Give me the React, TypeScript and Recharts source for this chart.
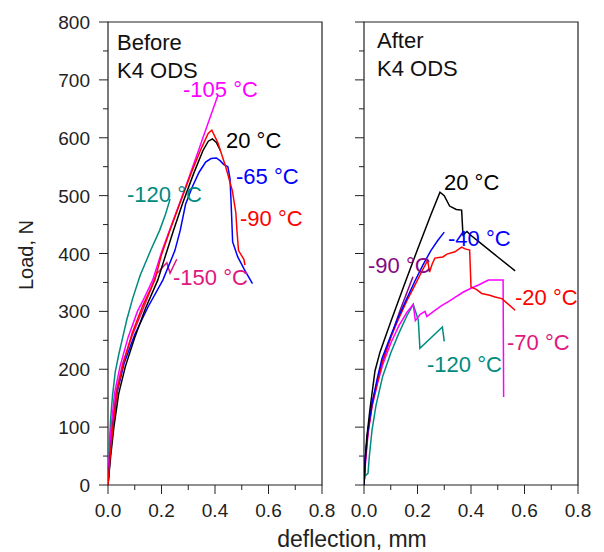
import React from 'react';
import { LineChart, Line, XAxis, YAxis, ReferenceArea } from 'recharts';

const FONT = '"Liberation Sans", Arial, Helvetica, sans-serif';

type Pt = [number, number]; // [deflection mm, load N]

// Before K4 ODS
const before20: Pt[] = [[0, 0], [0.01, 50], [0.022, 100], [0.04, 158], [0.065, 205], [0.1, 255], [0.14, 305], [0.186, 354], [0.22, 404], [0.245, 440], [0.28, 488], [0.32, 538], [0.355, 578], [0.375, 594], [0.39, 598], [0.405, 592], [0.42, 578]];
const beforeM65: Pt[] = [[0, 0], [0.008, 50], [0.018, 100], [0.035, 162], [0.06, 210], [0.1, 260], [0.15, 308], [0.205, 354], [0.25, 405], [0.27, 440], [0.29, 485], [0.315, 515], [0.34, 540], [0.365, 558], [0.385, 564], [0.405, 565], [0.42, 560], [0.432, 554], [0.448, 550], [0.456, 530], [0.46, 490], [0.466, 420], [0.485, 394], [0.51, 372], [0.54, 348]];
const beforeM90: Pt[] = [[0, 0], [0.008, 50], [0.018, 100], [0.035, 165], [0.06, 215], [0.09, 262], [0.13, 310], [0.175, 354], [0.2, 398], [0.23, 438], [0.27, 488], [0.31, 538], [0.35, 583], [0.375, 608], [0.388, 613], [0.41, 592], [0.44, 550], [0.465, 508], [0.478, 470], [0.482, 440], [0.488, 405], [0.5, 396], [0.508, 390], [0.512, 380]];
const beforeM105: Pt[] = [[0, 0], [0.005, 50], [0.012, 100], [0.025, 160], [0.045, 205], [0.075, 255], [0.11, 300], [0.13, 318], [0.167, 354], [0.2, 402], [0.23, 440], [0.27, 490], [0.3, 528], [0.33, 567], [0.37, 620], [0.41, 672]];
const beforeM120: Pt[] = [[0, 0], [0.004, 60], [0.01, 115], [0.017, 155], [0.027, 195], [0.04, 225], [0.05, 245], [0.07, 285], [0.092, 322], [0.12, 362], [0.16, 406], [0.193, 440], [0.215, 468], [0.232, 494]];
const beforeM150: Pt[] = [[0, 0], [0.006, 50], [0.014, 100], [0.03, 160], [0.055, 210], [0.09, 258], [0.13, 303], [0.16, 338], [0.18, 364], [0.22, 384], [0.232, 366], [0.257, 390]];

// After K4 ODS
const after20: Pt[] = [[0, 0], [0.004, 38], [0.01, 80], [0.022, 130], [0.041, 197], [0.06, 230], [0.1, 282], [0.15, 345], [0.2, 407], [0.25, 467], [0.284, 506], [0.3, 500], [0.32, 482], [0.345, 476], [0.365, 475], [0.37, 432], [0.385, 438], [0.398, 432], [0.43, 420], [0.5, 394], [0.565, 370]];
const afterM20: Pt[] = [[0, 0], [0.005, 45], [0.015, 92], [0.03, 138], [0.07, 215], [0.1, 255], [0.13, 288], [0.16, 318], [0.19, 345], [0.215, 368], [0.238, 388], [0.245, 368], [0.255, 382], [0.265, 392], [0.28, 393], [0.295, 394], [0.31, 399], [0.34, 403], [0.365, 411], [0.378, 408], [0.395, 406], [0.4, 342], [0.42, 338], [0.44, 331], [0.47, 328], [0.49, 325], [0.515, 322], [0.54, 312], [0.565, 302]];
const afterM40: Pt[] = [[0, 0], [0.004, 45], [0.015, 95], [0.03, 140], [0.05, 185], [0.067, 218], [0.1, 258], [0.13, 292], [0.16, 322], [0.19, 352], [0.22, 380], [0.25, 405], [0.275, 422], [0.3, 437]];
const afterM70: Pt[] = [[0, 0], [0.006, 40], [0.015, 88], [0.03, 135], [0.05, 175], [0.07, 208], [0.1, 245], [0.13, 275], [0.16, 298], [0.184, 312], [0.192, 284], [0.21, 295], [0.228, 300], [0.235, 291], [0.26, 300], [0.29, 310], [0.32, 318], [0.34, 324], [0.37, 333], [0.4, 340], [0.43, 346], [0.465, 354], [0.52, 354], [0.522, 152]];
const afterM90: Pt[] = [[0, 0], [0.005, 40], [0.013, 88], [0.03, 142], [0.06, 198], [0.09, 242], [0.135, 302], [0.183, 360]];
const afterM120: Pt[] = [[0, 0], [0.002, 15], [0.015, 20], [0.02, 50], [0.03, 95], [0.045, 138], [0.07, 188], [0.1, 228], [0.13, 262], [0.16, 292], [0.184, 312], [0.203, 285], [0.209, 236], [0.293, 273], [0.3, 248]];

const xTicks = [0, 0.1, 0.2, 0.3, 0.4, 0.5, 0.6, 0.7, 0.8];
const yTicks = [0, 50, 100, 150, 200, 250, 300, 350, 400, 450, 500, 550, 600, 650, 700, 750, 800];

const C = {
  black: '#000000',
  red: '#ff0000',
  blue: '#0000ff',
  magenta: '#ff00ff',
  teal: '#008b80',
  pink: '#e0167e',
  purple: '#850a85',
};

const toPts = (a: Pt[]) => a.map(([d, load]) => ({ d, load }));

// tick props come in at the label spot: axis + tickSize(10) + tickMargin(0)
const XTick = (props: any) => {
  const { x, y, payload } = props;
  const axisY = y - 10;
  const major = Math.round(payload.value * 10) % 2 === 0;
  return (
    <g>
      <line x1={x} y1={axisY} x2={x} y2={axisY + (major ? 9 : 5)} stroke="#222" />
      {major && (
        <text x={x} y={axisY + 32} textAnchor="middle" fontSize={19} fontFamily={FONT} fill="#222">
          {payload.value.toFixed(1)}
        </text>
      )}
    </g>
  );
};

const makeYTick = (showLabel: boolean) => (props: any) => {
  const { x, y, payload } = props;
  const axisX = x + 10;
  const major = payload.value % 100 === 0;
  return (
    <g>
      <line x1={axisX} y1={y} x2={axisX - (major ? 9 : 5)} y2={y} stroke="#222" />
      {showLabel && major && (
        <text x={axisX - 18} y={y + 7} textAnchor="end" fontSize={19} fontFamily={FONT} fill="#222">
          {payload.value}
        </text>
      )}
    </g>
  );
};

const series = (key: string, data: Pt[], color: string) => (
  <Line
    key={key}
    data={toPts(data)}
    dataKey="load"
    type="linear"
    stroke={color}
    strokeWidth={1.5}
    dot={false}
    activeDot={false}
    isAnimationActive={false}
  />
);

const Panel = ({ width, yWidth, right, labels, children }: any) => (
  <LineChart width={width} height={552} margin={{ top: 22, right, bottom: 0, left: 0 }}>
    <XAxis
      dataKey="d"
      type="number"
      domain={[0, 0.8]}
      ticks={xTicks}
      interval={0}
      height={67}
      tickSize={10}
      tickMargin={0}
      tickLine={false}
      axisLine={false}
      tick={XTick}
      allowDataOverflow
    />
    <YAxis
      type="number"
      domain={[0, 800]}
      ticks={yTicks}
      interval={0}
      width={yWidth}
      tickSize={10}
      tickMargin={0}
      tickLine={false}
      axisLine={false}
      tick={makeYTick(labels)}
      allowDataOverflow
    />
    <ReferenceArea x1={0} x2={0.8} y1={0} y2={800} fill="none" stroke="#222" strokeWidth={1.2} />
    {children}
  </LineChart>
);

const T = ({ x, y, c, s = 22, children }: any) => (
  <text x={x} y={y} fill={c} fontSize={s} fontFamily={FONT}>
    {children}
  </text>
);

const App = () => {
  return (
    <div style={{ position: 'absolute', left: 0, top: 0, width: 604, height: 552, background: '#fff' }}>
      <div style={{ position: 'absolute', left: 0, top: 0 }}>
        <Panel width={340} yWidth={108} right={18} labels={true}>
          {series('b120', beforeM120, C.teal)}
          {series('b150', beforeM150, C.pink)}
          {series('b105', beforeM105, C.magenta)}
          {series('b65', beforeM65, C.blue)}
          {series('b20', before20, C.black)}
          {series('b90', beforeM90, C.red)}
        </Panel>
      </div>
      <div style={{ position: 'absolute', left: 340, top: 0 }}>
        <Panel width={264} yWidth={24} right={26} labels={false}>
          {series('a120', afterM120, C.teal)}
          {series('a90', afterM90, C.purple)}
          {series('a70', afterM70, C.magenta)}
          {series('a20m', afterM20, C.red)}
          {series('a40', afterM40, C.blue)}
          {series('a20', after20, C.black)}
        </Panel>
      </div>
      <svg width={604} height={552} style={{ position: 'absolute', left: 0, top: 0, pointerEvents: 'none' }}>
        <T x={117} y={50} c="#111">Before</T>
        <T x={117} y={78} c="#111">K4 ODS</T>
        <T x={183} y={97} c={C.magenta}>-105 °C</T>
        <T x={226} y={148} c={C.black}>20 °C</T>
        <T x={236} y={184} c={C.blue}>-65 °C</T>
        <T x={127} y={202} c={C.teal}>-120 °C</T>
        <T x={240} y={226} c={C.red}>-90 °C</T>
        <T x={173} y={285} c={C.pink}>-150 °C</T>

        <T x={377} y={48} c="#111">After</T>
        <T x={377} y={76} c="#111">K4 ODS</T>
        <T x={444} y={190} c={C.black}>20 °C</T>
        <T x={448} y={246} c={C.blue}>-40 °C</T>
        <T x={368} y={273} c={C.purple}>-90 °C</T>
        <T x={515} y={305} c={C.red}>-20 °C</T>
        <T x={507} y={350} c={C.pink}>-70 °C</T>
        <T x={427} y={372} c={C.teal}>-120 °C</T>

        <text x={352} y={547} textAnchor="middle" fontSize={23} fontFamily={FONT} fill="#222">
          deflection, mm
        </text>
        <text
          x={0}
          y={0}
          transform="translate(33 255) rotate(-90)"
          textAnchor="middle"
          fontSize={20}
          fontFamily={FONT}
          fill="#222"
        >
          Load, N
        </text>
      </svg>
    </div>
  );
};

export default App;
